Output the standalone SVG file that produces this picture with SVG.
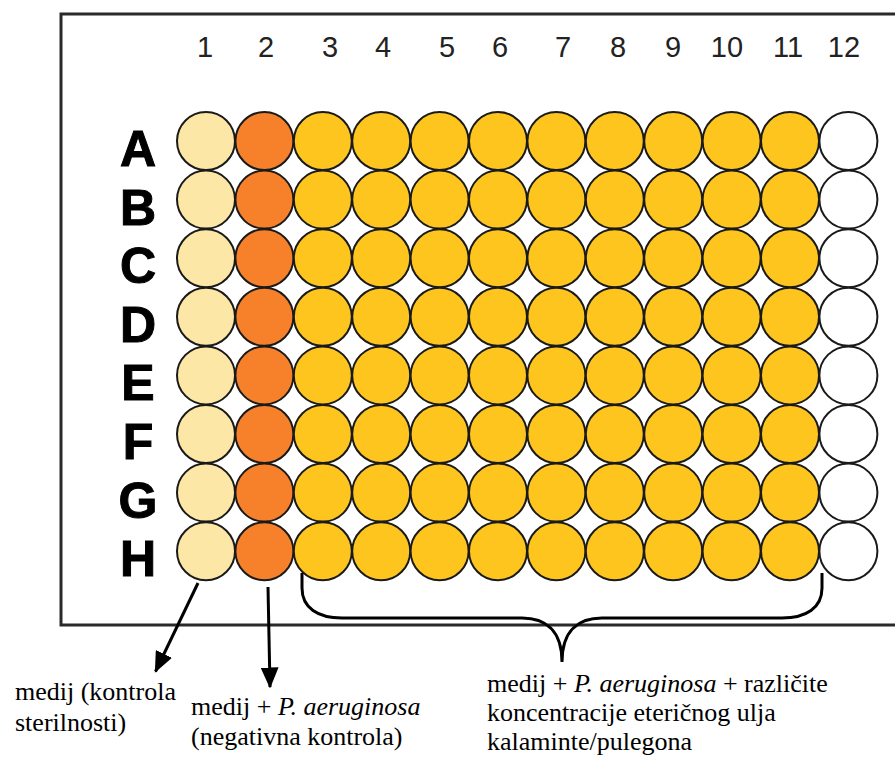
<svg xmlns="http://www.w3.org/2000/svg" width="895" height="758" viewBox="0 0 895 758">
<style>
.w{stroke:#1a1a1a;stroke-width:2}
.c1{fill:#FDE7A6}
.c2{fill:#F7802B}
.cy{fill:#FDC51D}
.c12{fill:#FFFFFF}
.num{font-family:"Liberation Sans",Arial,sans-serif;font-size:29px;fill:#222;text-anchor:middle}
.row{font-family:"Liberation Sans",Arial,sans-serif;font-size:50px;font-weight:bold;fill:#000;stroke:#000;stroke-width:1;text-anchor:middle}
.lbl{font-family:"Liberation Serif","Times New Roman",serif;font-size:26px;fill:#000}
.con{stroke:#000;stroke-width:3;fill:none}
</style>
<defs>
<marker id="ah" markerWidth="7" markerHeight="6" refX="6.5" refY="3" orient="auto" markerUnits="strokeWidth">
<path d="M0,0 L7,3 L0,6 Z" fill="#000"/>
</marker>
</defs>
<rect width="895" height="758" fill="#fff"/>
<g id="plate">
<path d="M900,14 L61,14 L61,625 L900,625" fill="none" stroke="#2a2a2a" stroke-width="3"/>
</g>
<g id="column-labels">
<text class="num" x="205" y="57">1</text>
<text class="num" x="266" y="57">2</text>
<text class="num" x="330" y="57">3</text>
<text class="num" x="383" y="57">4</text>
<text class="num" x="447" y="57">5</text>
<text class="num" x="500" y="57">6</text>
<text class="num" x="563" y="57">7</text>
<text class="num" x="618" y="57">8</text>
<text class="num" x="673" y="57">9</text>
<text class="num" x="727" y="57">10</text>
<text class="num" x="788" y="57">11</text>
<text class="num" x="844" y="57">12</text>
</g>
<g id="row-labels">
<text class="row" x="138" y="166">A</text>
<text class="row" x="138" y="225">B</text>
<text class="row" x="138" y="283">C</text>
<text class="row" x="138" y="342">D</text>
<text class="row" x="138" y="400">E</text>
<text class="row" x="138" y="459">F</text>
<text class="row" x="138" y="518">G</text>
<text class="row" x="138" y="576">H</text>
</g>
<g id="col1-wells" class="w c1">
<circle cx="206" cy="141" r="29"/><circle cx="206" cy="199.6" r="29"/><circle cx="206" cy="258.2" r="29"/><circle cx="206" cy="316.8" r="29"/><circle cx="206" cy="375.4" r="29"/><circle cx="206" cy="434" r="29"/><circle cx="206" cy="492.6" r="29"/><circle cx="206" cy="551.2" r="29"/>
</g>
<g id="col2-wells" class="w c2">
<circle cx="264.4" cy="141" r="29"/><circle cx="264.4" cy="199.6" r="29"/><circle cx="264.4" cy="258.2" r="29"/><circle cx="264.4" cy="316.8" r="29"/><circle cx="264.4" cy="375.4" r="29"/><circle cx="264.4" cy="434" r="29"/><circle cx="264.4" cy="492.6" r="29"/><circle cx="264.4" cy="551.2" r="29"/>
</g>
<g id="col3-11-wells" class="w cy">
<circle cx="322.8" cy="141" r="29"/><circle cx="322.8" cy="199.6" r="29"/><circle cx="322.8" cy="258.2" r="29"/><circle cx="322.8" cy="316.8" r="29"/><circle cx="322.8" cy="375.4" r="29"/><circle cx="322.8" cy="434" r="29"/><circle cx="322.8" cy="492.6" r="29"/><circle cx="322.8" cy="551.2" r="29"/>
<circle cx="381.2" cy="141" r="29"/><circle cx="381.2" cy="199.6" r="29"/><circle cx="381.2" cy="258.2" r="29"/><circle cx="381.2" cy="316.8" r="29"/><circle cx="381.2" cy="375.4" r="29"/><circle cx="381.2" cy="434" r="29"/><circle cx="381.2" cy="492.6" r="29"/><circle cx="381.2" cy="551.2" r="29"/>
<circle cx="439.6" cy="141" r="29"/><circle cx="439.6" cy="199.6" r="29"/><circle cx="439.6" cy="258.2" r="29"/><circle cx="439.6" cy="316.8" r="29"/><circle cx="439.6" cy="375.4" r="29"/><circle cx="439.6" cy="434" r="29"/><circle cx="439.6" cy="492.6" r="29"/><circle cx="439.6" cy="551.2" r="29"/>
<circle cx="498" cy="141" r="29"/><circle cx="498" cy="199.6" r="29"/><circle cx="498" cy="258.2" r="29"/><circle cx="498" cy="316.8" r="29"/><circle cx="498" cy="375.4" r="29"/><circle cx="498" cy="434" r="29"/><circle cx="498" cy="492.6" r="29"/><circle cx="498" cy="551.2" r="29"/>
<circle cx="556.4" cy="141" r="29"/><circle cx="556.4" cy="199.6" r="29"/><circle cx="556.4" cy="258.2" r="29"/><circle cx="556.4" cy="316.8" r="29"/><circle cx="556.4" cy="375.4" r="29"/><circle cx="556.4" cy="434" r="29"/><circle cx="556.4" cy="492.6" r="29"/><circle cx="556.4" cy="551.2" r="29"/>
<circle cx="614.8" cy="141" r="29"/><circle cx="614.8" cy="199.6" r="29"/><circle cx="614.8" cy="258.2" r="29"/><circle cx="614.8" cy="316.8" r="29"/><circle cx="614.8" cy="375.4" r="29"/><circle cx="614.8" cy="434" r="29"/><circle cx="614.8" cy="492.6" r="29"/><circle cx="614.8" cy="551.2" r="29"/>
<circle cx="673.2" cy="141" r="29"/><circle cx="673.2" cy="199.6" r="29"/><circle cx="673.2" cy="258.2" r="29"/><circle cx="673.2" cy="316.8" r="29"/><circle cx="673.2" cy="375.4" r="29"/><circle cx="673.2" cy="434" r="29"/><circle cx="673.2" cy="492.6" r="29"/><circle cx="673.2" cy="551.2" r="29"/>
<circle cx="731.6" cy="141" r="29"/><circle cx="731.6" cy="199.6" r="29"/><circle cx="731.6" cy="258.2" r="29"/><circle cx="731.6" cy="316.8" r="29"/><circle cx="731.6" cy="375.4" r="29"/><circle cx="731.6" cy="434" r="29"/><circle cx="731.6" cy="492.6" r="29"/><circle cx="731.6" cy="551.2" r="29"/>
<circle cx="790" cy="141" r="29"/><circle cx="790" cy="199.6" r="29"/><circle cx="790" cy="258.2" r="29"/><circle cx="790" cy="316.8" r="29"/><circle cx="790" cy="375.4" r="29"/><circle cx="790" cy="434" r="29"/><circle cx="790" cy="492.6" r="29"/><circle cx="790" cy="551.2" r="29"/>
</g>
<g id="col12-wells" class="w c12">
<circle cx="848.4" cy="141" r="29"/><circle cx="848.4" cy="199.6" r="29"/><circle cx="848.4" cy="258.2" r="29"/><circle cx="848.4" cy="316.8" r="29"/><circle cx="848.4" cy="375.4" r="29"/><circle cx="848.4" cy="434" r="29"/><circle cx="848.4" cy="492.6" r="29"/><circle cx="848.4" cy="551.2" r="29"/>
</g>
<g id="connectors">
<line class="con" x1="198" y1="583" x2="155.5" y2="671.5" marker-end="url(#ah)"/>
<line class="con" x1="268" y1="587" x2="270" y2="687" marker-end="url(#ah)"/>
<path class="con" stroke-width="4" d="M302,573 L302,588 C302,608 318,618 342,618 L522,618 C545,618 562,630 562,662 C562,630 579,618 602,618 L782,618 C806,618 822,608 822,588 L822,573"/>
</g>
<g id="label-sterility">
<text class="lbl" x="15" y="700">medij (kontrola</text>
<text class="lbl" x="15" y="731">sterilnosti)</text>
</g>
<g id="label-negative">
<text class="lbl" x="191" y="715">medij + <tspan font-style="italic">P. aeruginosa</tspan></text>
<text class="lbl" x="191" y="745">(negativna kontrola)</text>
</g>
<g id="label-concentrations">
<text class="lbl" x="487" y="692">medij + <tspan font-style="italic">P. aeruginosa</tspan> + različite</text>
<text class="lbl" x="487" y="721">koncentracije eteričnog ulja</text>
<text class="lbl" x="487" y="750">kalaminte/pulegona</text>
</g>
</svg>
